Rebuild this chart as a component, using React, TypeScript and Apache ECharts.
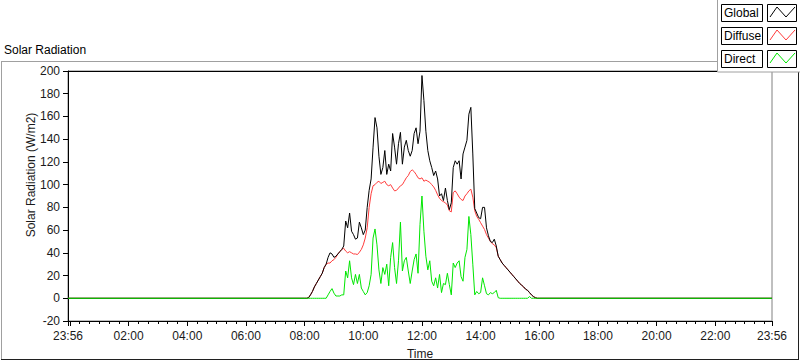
import React, { useEffect, useRef } from "react";
import * as echarts from "echarts";

// Time axis in minutes after midnight; the chart spans 23:56 (previous day) to 23:56.
const AXIS_MIN = -4;
const AXIS_MAX = 1436;
// Daytime samples: every 4 minutes from 08:00 to 16:00.
const SAMPLE_START = 480;
const SAMPLE_STEP = 4;

const globalValues = [
  0, 0, 0.5, 3, 6, 10, 13, 16, 19, 22,
  27, 30, 36, 40, 39, 36, 37, 39, 41, 43,
  46, 68, 62, 75, 59, 56, 52, 53, 67, 62,
  56, 60, 80, 95, 105, 133, 159, 150, 125, 109,
  115, 130, 109, 118, 112, 145, 133, 118, 136, 146,
  118, 133, 139, 130, 125, 130, 145, 150, 136, 147,
  196, 174, 147, 130, 121, 115, 108, 112, 105, 90,
  92, 86, 97, 86, 78, 84, 115, 121, 118, 121,
  105, 127, 133, 139, 162, 168, 127, 79, 75, 71,
  70, 80, 80, 62, 55, 50, 49, 52, 46, 37,
  34, 31, 29, 27, 25, 23, 21, 19, 17, 15,
  13, 11.5, 10, 8, 7, 5, 3, 1.5, 0.5, 0, 0,
];

const diffuseValues = [
  0, 0, 0.5, 3, 6, 10, 13, 16, 19, 22,
  27, 30, 31, 31, 33, 34, 36, 39, 41, 43,
  44, 41.5, 40, 41, 40, 39, 39, 38.5, 40.5, 43,
  47, 53, 62, 80, 92, 99, 100, 102, 103, 101,
  102, 103, 100, 99, 100, 97, 94.5, 95, 97, 99,
  100, 103, 106, 108, 111.5, 113, 111.5, 109, 106, 105,
  106, 103, 104, 103, 102, 100, 98, 95, 91, 88,
  86, 85, 84, 82, 77, 76, 93, 94.5, 92, 89,
  87, 86, 90, 92, 94.5, 96, 89, 77, 72, 69.5,
  66.5, 63.5, 60.5, 56, 53, 50, 48, 47, 44.5, 37,
  34, 31, 29, 27, 25, 23, 21, 19, 17, 15,
  13, 11.5, 10, 8, 7, 5, 3, 1.5, 0.5, 0, 0,
];

const directValues = [
  0, 0, 0, 0, 0, 0, 0, 0, 0, 0,
  0, 0, 3, 6, 8.5, 4.5, 2, 2, 2, 3,
  3, 24, 18, 33, 18, 12, 21, 13, 21, 9,
  6, 3, 5, 11, 21, 53, 61, 47, 25, 13,
  27, 21, 30, 11, 36, 49, 27, 13, 33, 67,
  24, 33, 36, 24, 13, 24, 34, 39, 22, 65,
  90, 59, 37, 25, 33, 15, 11, 18, 9, 21,
  5, 13, 12, 22, 12, 3, 31, 27, 31, 33,
  19, 15, 36, 43, 72, 56, 30, 3, 6, 4,
  5, 18, 11, 4, 3, 5, 4, 5, 7, 0.5,
  0, 0, 0, 0, 0, 0, 0, 0, 0, 0,
  0, 0, 0, 0, 0, 1.5, 0, 0, 0, 0, 0,
];

const xLabelValues = [-4, 120, 240, 360, 480, 600, 720, 840, 960, 1080, 1200, 1320, 1436];
const xMajorTickValues = [-4, 0, 120, 240, 360, 480, 600, 720, 840, 960, 1080, 1200, 1320, 1436];
const xMinorTickValues: number[] = [];
for (let m = 20; m < AXIS_MAX; m += 20) if (m % 120 !== 0) xMinorTickValues.push(m);

const legendItems = [
  { name: "Global", color: "#000000" },
  { name: "Diffuse", color: "#ff3c3c" },
  { name: "Direct", color: "#00e600" },
];

const FONT = "Liberation Sans";
const TEXT_COLOR = "#1a1a1a";

function hhmm(m: number): string {
  const v = ((m % 1440) + 1440) % 1440;
  const h = Math.floor(v / 60);
  const mm = v % 60;
  return String(h).padStart(2, "0") + ":" + String(mm).padStart(2, "0");
}

function toSeries(values: number[]): [number, number][] {
  const out: [number, number][] = [[AXIS_MIN, 0]];
  values.forEach((v, i) => out.push([SAMPLE_START + i * SAMPLE_STEP, v]));
  out.push([AXIS_MAX, 0]);
  return out;
}

export default function App() {
  const ref = useRef<HTMLDivElement>(null);

  useEffect(() => {
    if (!ref.current) return;
    const chart = echarts.init(ref.current, undefined, { renderer: "svg" });

    const legendGraphics: any[] = [
      {
        type: "rect",
        z: 100,
        shape: { x: 717.5, y: -1, width: 84, height: 73 },
        style: { fill: "#ffffff", stroke: "#a0a0a0", lineWidth: 1 },
      },
    ];
    legendItems.forEach((it, i) => {
      const y0 = 4 + i * 23;
      legendGraphics.push(
        {
          type: "rect",
          z: 101,
          shape: { x: 721.5, y: y0 + 0.5, width: 41, height: 17 },
          style: { fill: "#ffffff", stroke: "#000000", lineWidth: 1 },
        },
        {
          type: "text",
          z: 102,
          x: 724,
          y: y0 + 9,
          style: {
            text: it.name,
            fontFamily: FONT,
            fontSize: 12,
            fill: "#000000",
            align: "left",
            verticalAlign: "middle",
          },
        },
        {
          type: "rect",
          z: 101,
          shape: { x: 767.5, y: y0 + 0.5, width: 29, height: 17 },
          style: { fill: "#ffffff", stroke: "#000000", lineWidth: 1 },
        },
        {
          type: "polyline",
          z: 102,
          shape: {
            points: [
              [770, y0 + 13],
              [777, y0 + 3],
              [786, y0 + 13],
              [795, y0 + 3],
            ],
          },
          style: { stroke: it.color, lineWidth: 1, fill: "none" },
        }
      );
    });

    const option: any = {
      animation: false,
      backgroundColor: "#ffffff",
      grid: {
        left: 68,
        right: 28,
        top: 71,
        bottom: 40,
        containLabel: false,
        outerBoundsMode: "none",
        show: true,
        backgroundColor: "#ffffff",
        borderColor: "#808080",
        borderWidth: 1,
      },
      xAxis: [
        {
          type: "value",
          min: AXIS_MIN,
          max: AXIS_MAX,
          position: "bottom",
          name: "Time",
          nameLocation: "middle",
          nameGap: 27,
          nameTextStyle: { fontFamily: FONT, fontSize: 12, color: TEXT_COLOR },
          axisLine: { show: true, onZero: false, lineStyle: { color: "#000000", width: 1 } },
          axisTick: {
            show: true,
            length: 5,
            customValues: xMajorTickValues,
            lineStyle: { color: "#000000" },
          },
          axisLabel: {
            show: true,
            customValues: xLabelValues,
            formatter: (v: number) => hhmm(v),
            fontFamily: FONT,
            fontSize: 12,
            color: TEXT_COLOR,
            margin: 9,
          },
          splitLine: { show: false },
        },
        {
          type: "value",
          min: AXIS_MIN,
          max: AXIS_MAX,
          position: "bottom",
          axisLine: { show: false, onZero: false },
          axisTick: {
            show: true,
            length: 3,
            customValues: xMinorTickValues,
            lineStyle: { color: "#000000" },
          },
          axisLabel: { show: false },
          splitLine: { show: false },
        },
        {
          type: "value",
          min: AXIS_MIN,
          max: AXIS_MAX,
          position: "top",
          axisLine: { show: true, onZero: false, lineStyle: { color: "#000000", width: 1 } },
          axisTick: { show: false },
          axisLabel: { show: false },
          splitLine: { show: false },
        },
      ],
      yAxis: {
        type: "value",
        min: -20,
        max: 200,
        interval: 20,
        axisLine: { show: true, onZero: false, lineStyle: { color: "#000000", width: 1 } },
        axisTick: { show: true, length: 5, lineStyle: { color: "#000000" } },
        axisLabel: {
          fontFamily: FONT,
          fontSize: 12,
          color: TEXT_COLOR,
          margin: 8,
        },
        splitLine: { show: false },
      },
      graphic: [
        {
          type: "line",
          z: 1,
          shape: { x1: 1, y1: 61.5, x2: 799, y2: 61.5 },
          style: { stroke: "#a0a0a0", lineWidth: 1 },
        },
        {
          type: "line",
          z: 1,
          shape: { x1: 1.5, y1: 61, x2: 1.5, y2: 359 },
          style: { stroke: "#a0a0a0", lineWidth: 1 },
        },
        {
          type: "line",
          z: 1,
          shape: { x1: 1, y1: 359.5, x2: 799, y2: 359.5 },
          style: { stroke: "#202020", lineWidth: 1 },
        },
        {
          type: "line",
          z: 1,
          shape: { x1: 798.5, y1: 61, x2: 798.5, y2: 360 },
          style: { stroke: "#202020", lineWidth: 1 },
        },
        {
          type: "text",
          x: 4,
          y: 50,
          style: {
            text: "Solar Radiation",
            fontFamily: FONT,
            fontSize: 12,
            fill: "#000000",
            align: "left",
            verticalAlign: "middle",
          },
        },
        {
          type: "text",
          x: 31,
          y: 175,
          rotation: Math.PI / 2,
          style: {
            text: "Solar Radiation (W/m2)",
            fontFamily: FONT,
            fontSize: 12,
            fill: TEXT_COLOR,
            align: "center",
            verticalAlign: "middle",
          },
        },
        ...legendGraphics,
      ],
      series: [
        {
          name: "Diffuse",
          type: "line",
          xAxisIndex: 0,
          data: toSeries(diffuseValues),
          showSymbol: false,
          symbol: "none",
          lineStyle: { color: legendItems[1].color, width: 1 },
          itemStyle: { color: legendItems[1].color },
          z: 2,
        },
        {
          name: "Global",
          type: "line",
          xAxisIndex: 0,
          data: toSeries(globalValues),
          showSymbol: false,
          symbol: "none",
          lineStyle: { color: legendItems[0].color, width: 1 },
          itemStyle: { color: legendItems[0].color },
          z: 3,
        },
        {
          name: "Direct",
          type: "line",
          xAxisIndex: 0,
          data: toSeries(directValues),
          showSymbol: false,
          symbol: "none",
          lineStyle: { color: legendItems[2].color, width: 1 },
          itemStyle: { color: legendItems[2].color },
          z: 4,
        },
      ],
    };

    chart.setOption(option);
    return () => chart.dispose();
  }, []);

  return (
    <div
      ref={ref}
      style={{ width: 800, height: 361, position: "absolute", left: 0, top: 0 }}
    />
  );
}
